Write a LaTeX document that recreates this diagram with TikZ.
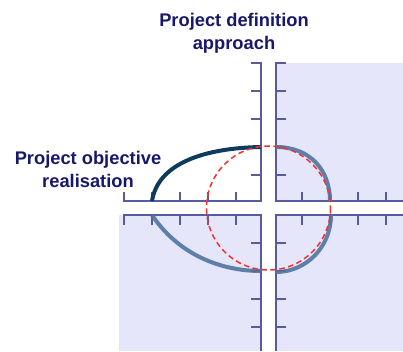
\documentclass[tikz,border=0pt]{standalone}
\usepackage{fontspec}
\setmainfont{Liberation Sans}
\definecolor{txtc}{HTML}{18186A}
\definecolor{axc}{HTML}{5A5A9E}
\definecolor{fillc}{HTML}{E6E6FA}
\definecolor{darkc}{HTML}{0D3B5E}
\definecolor{lightc}{HTML}{50749F}
\definecolor{redc}{HTML}{F53030}
\begin{document}
\begin{tikzpicture}[x=1pt,y=-1pt,
  axis/.style={draw=axc,line width=1.6pt},
  tick/.style={draw=axc,line width=1.3pt},
  quad/.style={fill=fillc,draw=none},
  label/.style={font=\bfseries\fontsize{18.3}{23}\selectfont,text=txtc,align=center,inner sep=0pt},
  darkcurve/.style={draw=darkc,line width=4pt},
  lightcurve/.style={draw=lightc,line width=4pt,opacity=0.9},
  redcircle/.style={draw=redc,line width=1.5pt,dash pattern=on 5.5pt off 3.5pt}]
\useasboundingbox (0,0) rectangle (403,351);
% quadrant fills
\fill[quad] (276,63) rectangle (403,201);
\fill[quad] (119,215) rectangle (261,351);
\fill[quad] (276,215) rectangle (403,351);
% top-left axes
\draw[axis] (251,63) -- (261,63) -- (261,201) -- (124,201) -- (124,192);
\foreach \y in {91,119,147,175} \draw[tick] (251,\y) -- (261,\y);
\foreach \x in {152,180,208,236} \draw[tick] (\x,192) -- (\x,201);
% top-right axes
\draw[axis] (286,63) -- (276,63) -- (276,201) -- (403,201);
\foreach \y in {91,119,147,175} \draw[tick] (276,\y) -- (286,\y);
\foreach \x in {302,330,358,386} \draw[tick] (\x,192) -- (\x,201);
% bottom-left axes
\draw[axis] (124,225) -- (124,215) -- (261,215) -- (261,351);
\foreach \y in {243,271,299,327} \draw[tick] (251,\y) -- (261,\y);
\foreach \x in {152,180,208,236} \draw[tick] (\x,215) -- (\x,225);
% bottom-right axes
\draw[axis] (403,215) -- (276,215) -- (276,351);
\foreach \y in {243,271,299,327} \draw[tick] (276,\y) -- (286,\y);
\foreach \x in {302,330,358,386} \draw[tick] (\x,215) -- (\x,225);
% curves
\draw[darkcurve] (152,201) .. controls (158,163) and (205,148) .. (261,147);
\draw[lightcurve] (152,215) .. controls (178,254) and (220,271) .. (261,271);
\draw[lightcurve] (276,147) .. controls (310,147) and (330,170) .. (330,201);
\draw[lightcurve] (331,215) .. controls (331,247) and (306,272) .. (276,272);
% red dashed circle
\draw[redcircle] (268.5,208) circle[radius=62];
% labels
\node[label] (top) at (234,33) {Project definition\\approach};
\node[label] (left) at (88,169) {Project objective\\realisation};
\end{tikzpicture}
\end{document}
